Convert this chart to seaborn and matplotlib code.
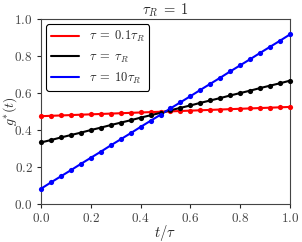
import matplotlib
matplotlib.use("Agg")
import matplotlib.pyplot as plt
import seaborn as sns
import pandas as pd

t = [0.00, 0.04, 0.08, 0.12, 0.16, 0.20, 0.24, 0.28, 0.32, 0.36, 0.40, 0.44, 0.48,
     0.52, 0.56, 0.60, 0.64, 0.68, 0.72, 0.76, 0.80, 0.84, 0.88, 0.92, 0.96, 1.00]
g_red = [0.475, 0.477, 0.479, 0.481, 0.483, 0.485, 0.487, 0.489, 0.491, 0.493, 0.495, 0.497, 0.499,
         0.501, 0.503, 0.505, 0.507, 0.509, 0.511, 0.513, 0.515, 0.517, 0.519, 0.521, 0.523, 0.525]
g_black = [0.333, 0.346, 0.360, 0.373, 0.386, 0.400, 0.413, 0.427, 0.440, 0.453, 0.467, 0.480, 0.493,
           0.507, 0.520, 0.533, 0.547, 0.560, 0.573, 0.587, 0.600, 0.613, 0.627, 0.640, 0.653, 0.667]
g_blue = [0.083, 0.117, 0.150, 0.183, 0.217, 0.250, 0.283, 0.317, 0.350, 0.383, 0.417, 0.450, 0.483,
          0.517, 0.550, 0.583, 0.617, 0.650, 0.683, 0.717, 0.750, 0.783, 0.817, 0.850, 0.883, 0.917]
labels = [r"$\tau\;=\;0.1\tau_R$", r"$\tau\;=\;\tau_R$", r"$\tau\;=\;10\tau_R$"]
colors = ["#ff0000", "#000000", "#0000ff"]
xticks = [0.0, 0.2, 0.4, 0.6, 0.8, 1.0]
yticks = [0.0, 0.2, 0.4, 0.6, 0.8, 1.0]

sns.set_style("ticks")
plt.rcParams["mathtext.fontset"] = "cm"
plt.rcParams["font.family"] = ["DejaVu Serif"]

fig = plt.figure(figsize=(3.02, 2.42), dpi=100)
ax = fig.add_axes([0.136, 0.157, 0.824, 0.764])

for g, lab, c in zip([g_red, g_black, g_blue], labels, colors):
    df = pd.DataFrame({"t": t, "g": g})
    sns.lineplot(data=df, x="t", y="g", color=c, lw=1.5, label=lab, ax=ax)
    sns.scatterplot(data=df, x="t", y="g", color=c, s=14, edgecolor=c, linewidth=0,
                    ax=ax, legend=False, zorder=3, clip_on=False)

ax.set_xlim(0, 1)
ax.set_ylim(0, 1)
ax.set_xticks(xticks)
ax.set_yticks(yticks)
ax.set_xticklabels([f"${v:.1f}$" for v in xticks], fontsize=9.5, color="#444444")
ax.set_yticklabels([f"${v:.1f}$" for v in yticks], fontsize=9.5, color="#444444")
ax.set_xlabel(r"$t/\tau$", fontsize=10.5)
ax.set_ylabel(r"$g^{*}(t)$", fontsize=10)
ax.xaxis.set_label_coords(0.5, -0.105)
ax.yaxis.set_label_coords(-0.088, 0.5)
ax.set_title(r"$\tau_R\;=\;1$", fontsize=10.5, pad=3)
ax.tick_params(length=3, width=0.8, pad=3)
for s in ax.spines.values():
    s.set_linewidth(0.8)
    s.set_color("#444444")

leg = ax.legend(loc="upper left", fontsize=9, frameon=True, fancybox=True,
                edgecolor="black", framealpha=1, handlelength=2.2,
                borderaxespad=0.4, labelspacing=0.5)
leg.get_frame().set_linewidth(0.8)

fig.savefig("out.png", dpi=100)
